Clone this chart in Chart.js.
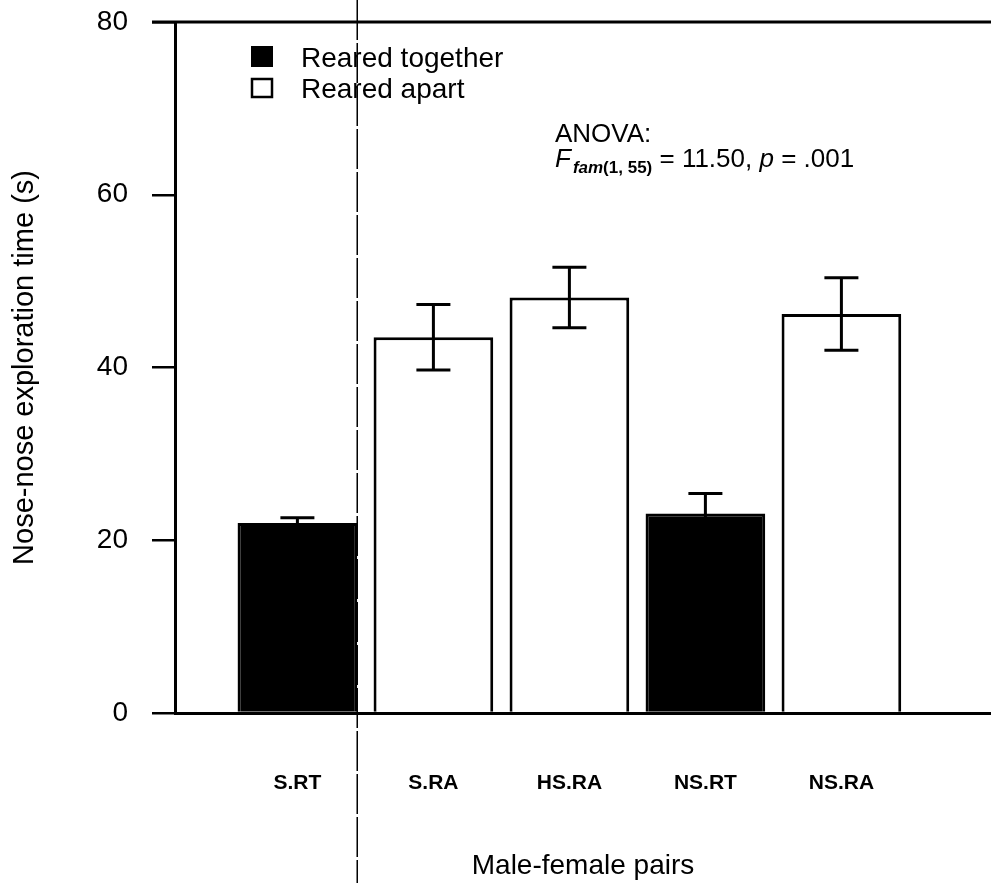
<!DOCTYPE html>
<html lang="en">
<head>
    <meta charset="UTF-8">
    <script src="https://cdn.jsdelivr.net/npm/chart.js@4.4.0/dist/chart.umd.min.js"></script>
    <title>Nose-nose exploration time</title>
    <style>
        html, body { margin: 0; padding: 0; background: #fff; }
        #wrap { width: 991px; height: 883px; }
    </style>
</head>
<body>
    <div id="wrap"><canvas id="chart"></canvas></div>

    <script>
        // values
        const categories = ['S.RT', 'S.RA', 'HS.RA', 'NS.RT', 'NS.RA'];
        const rearing = ['together', 'apart', 'apart', 'together', 'apart'];
        const means = [22.0, 43.5, 48.1, 23.1, 46.2];
        const errors = [0.6, 3.8, 3.5, 2.3, 4.2];
        const yTicks = [0, 20, 40, 60, 80];
        const dividerAt = 0.44; // the vertical line between S.RT and S.RA

        const font = "'Liberation Sans', Arial, sans-serif";

        function points(group) {
            const out = [];
            categories.forEach((c, i) => {
                if (rearing[i] === group) out.push({ x: i, y: means[i] });
            });
            return out;
        }

        const extras = {
            id: 'extras',
            afterDatasetsDraw(chart) {
                const ctx = chart.ctx;
                const xs = chart.scales.x;
                const ys = chart.scales.y;
                ctx.save();
                ctx.strokeStyle = '#000';
                ctx.lineWidth = 3;
                means.forEach((m, i) => {
                    const x = xs.getPixelForValue(i);
                    const top = ys.getPixelForValue(m + errors[i]);
                    const bot = ys.getPixelForValue(m - errors[i]);
                    ctx.beginPath();
                    ctx.moveTo(x, top);
                    ctx.lineTo(x, bot);
                    ctx.moveTo(x - 17, top);
                    ctx.lineTo(x + 17, top);
                    ctx.moveTo(x - 17, bot);
                    ctx.lineTo(x + 17, bot);
                    ctx.stroke();
                });
                ctx.restore();
            },
            afterDraw(chart) {
                const ctx = chart.ctx;
                const area = chart.chartArea;
                ctx.save();
                // top frame line
                ctx.strokeStyle = '#000';
                ctx.lineWidth = 3;
                ctx.beginPath();
                ctx.moveTo(area.left - 23, area.top);
                ctx.lineTo(chart.width, area.top);
                ctx.stroke();

                // divider line
                const dx = chart.scales.x.getPixelForValue(dividerAt);
                ctx.lineWidth = 1.5;
                ctx.setLineDash([40, 3]);
                ctx.beginPath();
                ctx.moveTo(dx, 0);
                ctx.lineTo(dx, chart.height);
                ctx.stroke();
                ctx.setLineDash([]);

                // legend
                ctx.fillStyle = '#000';
                ctx.fillRect(251, 46, 22, 21);
                ctx.lineWidth = 2.5;
                ctx.strokeRect(252, 79, 20, 18);
                ctx.font = '28px ' + font;
                ctx.textBaseline = 'alphabetic';
                ctx.fillText('Reared together', 301, 67);
                ctx.fillText('Reared apart', 301, 98);

                // ANOVA note
                let x = 555;
                ctx.font = '26px ' + font;
                ctx.fillText('ANOVA:', x, 142);
                ctx.font = 'italic 26px ' + font;
                ctx.fillText('F', x, 167);
                x += ctx.measureText('F').width + 2;
                ctx.font = 'italic bold 17px ' + font;
                ctx.fillText('fam', x, 173);
                x += ctx.measureText('fam').width;
                ctx.font = 'bold 17px ' + font;
                ctx.fillText('(1, 55)', x, 173);
                x += ctx.measureText('(1, 55)').width;
                ctx.font = '26px ' + font;
                ctx.fillText(' = 11.50, ', x, 167);
                x += ctx.measureText(' = 11.50, ').width;
                ctx.font = 'italic 26px ' + font;
                ctx.fillText('p', x, 167);
                x += ctx.measureText('p').width;
                ctx.font = '26px ' + font;
                ctx.fillText(' = .001', x, 167);
                ctx.restore();
            }
        };

        new Chart(document.getElementById('chart'), {
            type: 'bar',
            data: {
                datasets: [{
                    label: 'Reared together',
                    data: points('together'),
                    backgroundColor: '#000',
                    borderColor: '#000',
                    borderWidth: 3,
                    grouped: false,
                    barPercentage: 1,
                    categoryPercentage: 0.88
                }, {
                    label: 'Reared apart',
                    data: points('apart'),
                    backgroundColor: '#fff',
                    borderColor: '#000',
                    borderWidth: 3,
                    grouped: false,
                    barPercentage: 1,
                    categoryPercentage: 0.88
                }]
            },
            options: {
                responsive: true,
                maintainAspectRatio: false,
                animation: false,
                layout: { padding: { top: 22, right: 0, bottom: 0, left: 0 } },
                plugins: {
                    legend: { display: false },
                    tooltip: { enabled: false }
                },
                scales: {
                    x: {
                        type: 'linear',
                        offset: false,
                        min: -0.9,
                        max: 5.1,
                        afterBuildTicks(scale) {
                            scale.ticks = categories.map((c, i) => ({ value: i }));
                        },
                        afterFit(scale) {
                            scale.height = 170;
                            scale.paddingLeft = 0;
                            scale.paddingRight = 0;
                        },
                        grid: { display: false },
                        border: { display: true, color: '#000', width: 3 },
                        ticks: {
                            autoSkip: false,
                            maxRotation: 0,
                            padding: 50,
                            color: '#000',
                            font: { family: font, size: 21, weight: 'bold' },
                            callback: v => categories[v]
                        },
                        title: {
                            display: true,
                            text: 'Male-female pairs',
                            color: '#000',
                            font: { family: font, size: 28 },
                            padding: { top: 0, bottom: 0 }
                        }
                    },
                    y: {
                        min: 0,
                        max: 80,
                        afterBuildTicks(scale) {
                            scale.ticks = yTicks.map(v => ({ value: v }));
                        },
                        afterFit(scale) {
                            scale.width = 175;
                            scale.paddingTop = 0;
                            scale.paddingBottom = 0;
                        },
                        grid: {
                            drawOnChartArea: false,
                            drawTicks: true,
                            tickLength: 23,
                            color: '#000',
                            lineWidth: 2.5
                        },
                        border: { display: true, color: '#000', width: 3 },
                        ticks: {
                            padding: 24,
                            color: '#000',
                            font: { family: font, size: 28 }
                        },
                        title: {
                            display: true,
                            text: 'Nose-nose exploration time (s)',
                            color: '#000',
                            font: { family: font, size: 29 },
                            padding: { top: 8, bottom: 0 }
                        }
                    }
                }
            },
            plugins: [extras]
        });
    </script>
</body>
</html>
